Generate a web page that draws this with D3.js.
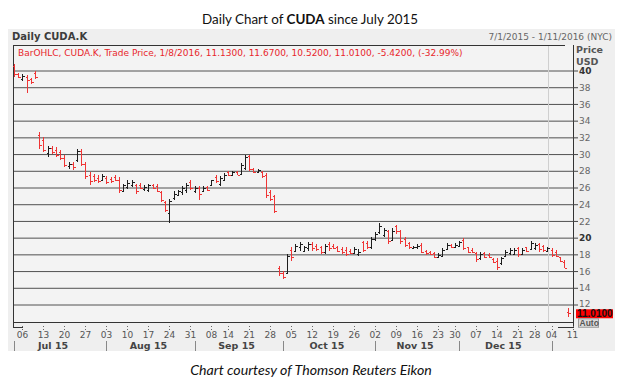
<!DOCTYPE html>
<html><head><meta charset="utf-8">
<script src="https://cdn.jsdelivr.net/npm/d3@7"></script>
<style>body{margin:0;background:#fff}svg{display:block}</style>
</head><body>
<svg id="c" width="623" height="380"></svg>
<script>
const dates = [
"2015-07-01","2015-07-02","2015-07-06","2015-07-07","2015-07-08","2015-07-09","2015-07-10","2015-07-13","2015-07-14","2015-07-15","2015-07-16","2015-07-17","2015-07-20","2015-07-21","2015-07-22","2015-07-23","2015-07-24","2015-07-27","2015-07-28","2015-07-29","2015-07-30","2015-07-31",
"2015-08-03","2015-08-04","2015-08-05","2015-08-06","2015-08-07","2015-08-10","2015-08-11","2015-08-12","2015-08-13","2015-08-14","2015-08-17","2015-08-18","2015-08-19","2015-08-20","2015-08-21","2015-08-24","2015-08-25","2015-08-26","2015-08-27","2015-08-28","2015-08-31",
"2015-09-01","2015-09-02","2015-09-03","2015-09-04","2015-09-08","2015-09-09","2015-09-10","2015-09-11","2015-09-14","2015-09-15","2015-09-16","2015-09-17","2015-09-18","2015-09-21","2015-09-22","2015-09-23","2015-09-24","2015-09-25","2015-09-28","2015-09-29","2015-09-30",
"2015-10-01","2015-10-02","2015-10-05","2015-10-06","2015-10-07","2015-10-08","2015-10-09","2015-10-12","2015-10-13","2015-10-14","2015-10-15","2015-10-16","2015-10-19","2015-10-20","2015-10-21","2015-10-22","2015-10-23","2015-10-26","2015-10-27","2015-10-28","2015-10-29","2015-10-30",
"2015-11-02","2015-11-03","2015-11-04","2015-11-05","2015-11-06","2015-11-09","2015-11-10","2015-11-11","2015-11-12","2015-11-13","2015-11-16","2015-11-17","2015-11-18","2015-11-19","2015-11-20","2015-11-23","2015-11-24","2015-11-25","2015-11-27","2015-11-30",
"2015-12-01","2015-12-02","2015-12-03","2015-12-04","2015-12-07","2015-12-08","2015-12-09","2015-12-10","2015-12-11","2015-12-14","2015-12-15","2015-12-16","2015-12-17","2015-12-18","2015-12-21","2015-12-22","2015-12-23","2015-12-24","2015-12-28","2015-12-29","2015-12-30","2015-12-31",
"2016-01-04","2016-01-05","2016-01-06","2016-01-07","2016-01-08"];
const axisEndDate = "2016-01-11";

const open = [
40.6,39.7,39.0,39.3,39.0,39.8,32.4,31.8,30.2,30.8,30.6,30.3,29.6,28.6,28.9,29.3,30.4,28.9,27.5,27.4,27.2,27.0,
27.2,27.1,27.3,27.0,25.7,26.1,26.3,26.3,26.4,25.9,25.8,26.3,26.2,25.5,24.3,23.0,24.8,25.2,25.5,25.8,26.7,
25.6,26.0,25.6,26.1,26.3,27.3,26.5,27.0,27.9,27.6,27.9,27.7,28.4,29.8,28.3,27.9,27.9,27.5,25.5,25.0,16.4,
15.8,15.8,18.6,18.5,18.9,18.5,18.8,19.3,19.1,18.9,18.3,19.3,19.1,18.9,18.7,18.6,18.5,18.2,18.1,19.5,19.4,18.9,
19.9,20.7,20.4,20.8,19.8,21.4,20.8,19.9,19.4,18.8,18.9,19.2,18.5,18.4,18.2,17.7,17.9,18.7,19.2,18.9,
19.1,19.8,18.9,18.6,18.2,17.6,18.2,18.0,17.5,17.3,17.0,17.9,18.2,18.1,18.8,18.1,18.9,18.7,18.8,19.3,19.1,18.5,
18.6,18.4,17.7,17.2,11.13];
const high = [
40.8,39.8,39.6,39.5,39.2,40.0,32.7,32.1,31.0,31.0,30.9,30.5,29.9,29.1,29.1,30.7,30.7,29.1,27.9,27.7,27.5,27.7,
27.4,27.3,27.5,27.3,26.5,26.9,27.0,26.5,26.6,26.3,26.5,26.5,26.5,25.7,24.5,24.7,25.6,25.8,26.2,26.6,27.0,
26.2,26.2,26.2,26.2,27.0,27.5,27.4,27.8,28.0,28.0,28.0,29.0,30.0,30.0,28.4,28.3,28.0,27.8,25.8,25.2,16.7,
16.1,18.1,18.9,19.3,19.5,19.1,19.5,19.5,19.3,19.1,19.3,19.5,19.3,19.1,18.9,18.9,18.7,18.9,18.7,19.7,19.7,20.1,
20.7,21.8,21.2,21.0,21.2,21.6,21.0,20.1,19.5,19.1,19.3,19.4,18.6,18.5,18.3,18.2,18.8,19.4,19.3,19.4,
19.6,20.0,19.0,18.8,18.4,18.3,18.4,18.2,17.6,17.6,17.8,18.6,18.8,18.8,19.0,18.8,19.0,19.6,19.4,19.4,19.2,19.0,
18.8,18.6,17.8,17.4,11.67];
const low = [
39.3,39.2,38.8,37.4,38.5,39.0,30.7,30.3,29.7,30.1,29.7,29.3,28.5,28.3,28.2,29.1,28.6,27.1,26.3,26.7,26.6,26.9,
26.5,26.6,26.8,25.4,25.5,25.9,26.1,25.3,25.9,25.7,25.5,25.9,25.5,24.3,23.1,21.8,24.6,25.0,25.2,25.4,25.8,
25.4,24.6,25.5,25.6,26.2,26.6,26.2,26.8,27.4,27.5,27.5,27.6,28.2,28.0,27.8,27.8,27.2,24.8,24.4,23.0,15.5,
15.1,15.7,17.3,18.3,18.5,18.3,18.5,18.5,18.5,18.1,18.1,18.5,18.7,18.3,18.1,17.9,18.1,18.1,17.9,18.3,18.7,18.7,
19.7,20.5,20.1,19.3,19.7,20.5,19.3,18.9,18.7,18.7,18.7,18.2,18.0,18.0,17.6,17.6,17.8,18.6,18.8,18.8,
19.0,18.6,18.2,18.2,17.2,17.4,17.6,17.6,17.0,16.2,16.8,17.8,18.0,18.0,17.8,18.0,18.4,18.6,18.6,18.4,18.4,18.4,
17.8,17.8,17.2,16.4,10.52];
const close = [
39.6,39.3,39.4,38.9,38.7,39.3,31.2,30.6,30.8,30.3,30.0,29.6,28.8,28.9,28.5,30.4,28.9,27.4,26.8,26.9,26.8,27.4,
26.7,26.8,26.9,25.8,26.3,26.6,26.7,25.7,26.0,26.1,26.3,26.0,25.7,24.6,23.4,24.4,25.3,25.6,26.0,26.3,26.0,
26.0,25.3,26.0,25.8,26.9,26.8,27.2,27.6,27.6,27.9,27.6,28.8,29.7,28.3,27.9,28.1,27.4,25.2,24.7,23.3,15.8,
15.4,17.9,17.8,19.1,19.3,18.9,19.3,18.8,18.7,18.3,19.1,18.8,18.8,18.5,18.3,18.1,18.2,18.7,18.4,18.6,18.9,19.9,
20.5,21.4,21.0,19.6,20.9,20.8,19.6,19.2,18.9,19.0,19.1,18.4,18.2,18.1,17.8,18.0,18.6,19.2,18.9,19.2,
19.5,18.8,18.4,18.3,17.5,18.1,17.8,17.7,17.2,16.6,17.6,18.4,18.6,18.6,18.1,18.6,18.5,19.4,19.2,18.7,18.6,18.8,
18.0,17.9,17.3,16.43,11.01];

const weekTicks = ["2015-07-06","2015-07-13","2015-07-20","2015-07-27","2015-08-03","2015-08-10","2015-08-17","2015-08-24","2015-08-31",
"2015-09-08","2015-09-14","2015-09-21","2015-09-28","2015-10-05","2015-10-12","2015-10-19","2015-10-26","2015-11-02","2015-11-09",
"2015-11-16","2015-11-23","2015-11-30","2015-12-07","2015-12-14","2015-12-21","2015-12-28","2016-01-04","2016-01-11"];
const monthLabels = ["Jul 15","Aug 15","Sep 15","Oct 15","Nov 15","Dec 15"];
const monthStarts = ["2015-07-01","2015-08-03","2015-09-01","2015-10-01","2015-11-02","2015-12-01","2016-01-04"];
const yTicks = [12,14,16,18,20,22,24,26,28,30,32,34,36,38,40];
const boldTicks = [20,40];
const lastQuote = {date:"1/8/2016", open:"11.1300", high:"11.6700", low:"10.5200", close:"11.0100", chg:"-5.4200", pct:"(-32.99%)"};

const svg = d3.select("#c");
const UI = "'DejaVu Sans', Verdana, sans-serif";
const NUM = "'Liberation Sans', Arial, sans-serif";
const L = 13, R = 573, T = 45, B = 322;

const x = d3.scalePoint().domain(dates.concat([axisEndDate])).range([14, 572.6]);
const y = d3.scaleLinear().domain([12, 40]).range([305, 71]);

// panel
svg.append("rect").attr("x",8).attr("y",29).attr("width",607).attr("height",322).attr("fill","#efefef");
svg.append("rect").attr("x",L).attr("y",T).attr("width",R-L).attr("height",B-T).attr("fill","#f3f3f3");

// title
const title = svg.append("text").attr("x",310).attr("y",24).attr("text-anchor","middle")
  .attr("font-family","Lato, 'Open Sans', sans-serif").attr("font-size",13.4).attr("fill","#111");
title.append("tspan").text("Daily Chart of ");
title.append("tspan").attr("font-weight","bold").text("CUDA");
title.append("tspan").text(" since July 2015");

svg.append("text").attr("x",311).attr("y",375).attr("text-anchor","middle")
  .attr("font-family","Lato, 'Open Sans', sans-serif").attr("font-style","italic").attr("font-size",14.2)
  .attr("fill","#111").text("Chart courtesy of Thomson Reuters Eikon");

// header
svg.append("text").attr("x",12).attr("y",40).attr("font-family",UI)
  .attr("font-weight","bold").attr("font-size",10).attr("fill","#3c3c3c").text("Daily CUDA.K");
svg.append("text").attr("x",612).attr("y",40).attr("text-anchor","end").attr("font-family",UI)
  .attr("font-size",9).attr("fill","#666").text("7/1/2015 - 1/11/2016 (NYC)");

// grid
svg.append("g").selectAll("line").data(yTicks).join("line")
  .attr("x1",L).attr("x2",R).attr("y1",d=>y(d)).attr("y2",d=>y(d))
  .attr("stroke","#505050").attr("stroke-width",1);

// year separator
const yb = (x(dates[127]) + x(dates[128]))/2 - 1;
svg.append("line").attr("x1",yb).attr("x2",yb).attr("y1",T).attr("y2",B).attr("stroke","#cfcfcf");

// frame
svg.append("path").attr("d",`M${L},${T}H${R-8}M${L},${T}V${B+5}H${L+10}M${R},${T}V${B+5}H${R-15}M${L},${B}H${R}`)
  .attr("fill","none").attr("stroke","#333").attr("stroke-width",1).attr("shape-rendering","crispEdges");

// legend text
svg.append("text").attr("x",18).attr("y",56).attr("font-family",UI)
  .attr("font-size",9).attr("fill","#e8262b")
  .text(`BarOHLC, CUDA.K, Trade Price, ${lastQuote.date}, ${lastQuote.open}, ${lastQuote.high}, ${lastQuote.low}, ${lastQuote.close}, ${lastQuote.chg}, ${lastQuote.pct}`);

// bars
const red = "#ef3535", blk = "#1e1e1e";
const bars = svg.append("g").attr("shape-rendering","crispEdges").attr("stroke-width",1);
dates.forEach((d,i)=>{
  const cx = Math.round(x(d)) + 0.5;
  const col = close[i] < open[i] ? red : blk;
  const g = bars.append("g").attr("stroke",col);
  g.append("line").attr("x1",cx).attr("x2",cx).attr("y1",y(high[i])).attr("y2",y(low[i]));
  g.append("line").attr("x1",cx-2).attr("x2",cx).attr("y1",Math.round(y(open[i]))+0.5).attr("y2",Math.round(y(open[i]))+0.5);
  g.append("line").attr("x1",cx).attr("x2",cx+2).attr("y1",Math.round(y(close[i]))+0.5).attr("y2",Math.round(y(close[i]))+0.5);
});

// right axis
const ya = svg.append("g");
ya.selectAll("line").data(yTicks).join("line").attr("x1",R).attr("x2",R+5)
  .attr("y1",d=>y(d)).attr("y2",d=>y(d)).attr("stroke","#444");
ya.selectAll("text").data(yTicks).join("text").attr("x",R+6).attr("y",d=>y(d)+(d===12?2:3.2))
  .attr("font-family",UI).attr("font-size",9)
  .attr("font-weight",d=>boldTicks.includes(d)?"bold":"normal")
  .attr("fill",d=>boldTicks.includes(d)?"#333":"#666").text(d=>d);
svg.append("text").attr("x",R+3).attr("y",53).attr("font-family",UI)
  .attr("font-weight","bold").attr("font-size",9.5).attr("fill","#555").text("Price");
svg.append("text").attr("x",R+3).attr("y",65).attr("font-family",UI)
  .attr("font-weight","bold").attr("font-size",9.5).attr("fill","#555").text("USD");

// last price label
const ly = y(close[close.length-1]);
svg.append("rect").attr("x",576).attr("y",ly-4).attr("width",37).attr("height",9).attr("fill","#ff0000");
svg.append("text").attr("x",577).attr("y",ly+4).attr("font-family",NUM)
  .attr("font-weight","bold").attr("font-size",10).attr("fill","#111").text(close[close.length-1].toFixed(4));
svg.append("rect").attr("x",578.5).attr("y",ly+5.5).attr("width",20).attr("height",8.5).attr("fill","#dcdcdc").attr("stroke","#9a9a9a");
svg.append("text").attr("x",579.5).attr("y",ly+13).attr("font-family",NUM)
  .attr("font-weight","bold").attr("font-size",8.5).attr("fill","#555").text("Auto");

// x axis ticks + labels
const xa = svg.append("g");
xa.selectAll("line").data(weekTicks).join("line")
  .attr("x1",d=>Math.round(x(d))+0.5).attr("x2",d=>Math.round(x(d))+0.5).attr("y1",B+4).attr("y2",B+9)
  .attr("stroke","#666").attr("stroke-dasharray","1,2");
xa.selectAll("text").data(weekTicks).join("text").attr("x",d=>x(d)).attr("y",B+16).attr("text-anchor","middle")
  .attr("font-family",UI).attr("font-size",9).attr("fill","#555")
  .text(d=>d.slice(8));
// month separators and labels
svg.append("g").selectAll("line").data(monthStarts).join("line")
  .attr("x1",d=>Math.round(x(d))+0.5).attr("x2",d=>Math.round(x(d))+0.5).attr("y1",B+19).attr("y2",B+29)
  .attr("stroke","#888");
svg.append("g").selectAll("text").data(monthLabels).join("text")
  .attr("x",(d,i)=>{const a=dates.indexOf(monthStarts[i]), b=dates.indexOf(monthStarts[i+1])-1; return (x(dates[a])+x(dates[b]))/2 - (i===0?5:0);})
  .attr("y",B+27).attr("text-anchor","middle").attr("font-family",UI)
  .attr("font-weight","bold").attr("font-size",9.5).attr("fill","#444").text(d=>d);
</script>
</body></html>
